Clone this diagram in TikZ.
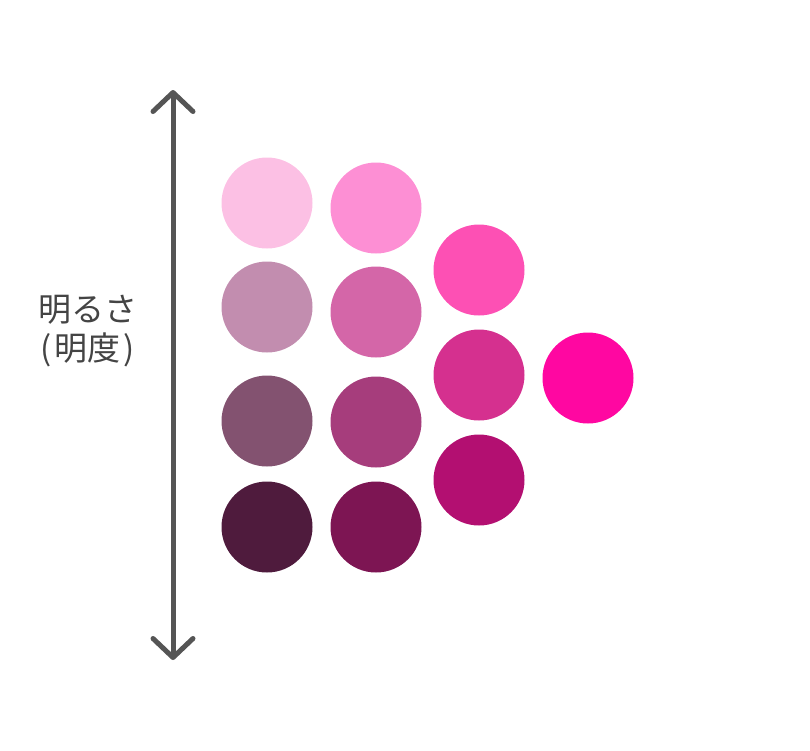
\documentclass[tikz,border=0pt]{standalone}
\usepackage{fontspec}
\usepackage{tikz}
\usetikzlibrary{arrows.meta}
\newfontfamily\jpfont{Noto Sans CJK JP}

\definecolor{axisgray}{HTML}{555555}
\definecolor{textgray}{HTML}{444444}
\definecolor{paleA}{HTML}{FCC0E4}
\definecolor{paleB}{HTML}{FD8FD4}
\definecolor{softA}{HTML}{C28DAF}
\definecolor{softB}{HTML}{D466A8}
\definecolor{dullA}{HTML}{835270}
\definecolor{dullB}{HTML}{A63D7C}
\definecolor{darkA}{HTML}{4F1B3D}
\definecolor{darkB}{HTML}{7D1553}
\definecolor{brightA}{HTML}{FD50B4}
\definecolor{brightB}{HTML}{D5308F}
\definecolor{brightC}{HTML}{B30F71}
\definecolor{vivid}{HTML}{FF07A1}

\tikzset{
	dot/.style={circle, minimum size=91pt, inner sep=0pt},
}

\begin{document}
\begin{tikzpicture}[x=1pt, y=-1pt]
	
	\useasboundingbox (0,0) rectangle (810,750);
	
	\coordinate (top) at (173,90);
	\coordinate (bot) at (173,660);
	\draw[axisgray, line width=5pt,
		{Straight Barb[length=19pt, width=40pt, round]}-{Straight Barb[length=19pt, width=40pt, round]}]
		(bot) -- (top);
	
	\node[textgray, align=center, font=\jpfont\fontsize{33}{39}\selectfont] (label) at (88,331) {明るさ\\(\kern3pt明度\kern3pt)};
	
	\node[dot, fill=paleA] (pa) at (267,203) {};
	\node[dot, fill=softA] (sa) at (267,307) {};
	\node[dot, fill=dullA] (da) at (267,421) {};
	\node[dot, fill=darkA] (ka) at (267,527) {};
	
	\node[dot, fill=paleB] (pb) at (376,208) {};
	\node[dot, fill=softB] (sb) at (376,312) {};
	\node[dot, fill=dullB] (db) at (376,422) {};
	\node[dot, fill=darkB] (kb) at (376,527) {};
	
	\node[dot, fill=brightA] (ba) at (479,270) {};
	\node[dot, fill=brightB] (bb) at (479,375) {};
	\node[dot, fill=brightC] (bc) at (479,480) {};
	
	\node[dot, fill=vivid] (v) at (588,378) {};
	
\end{tikzpicture}
\end{document}
